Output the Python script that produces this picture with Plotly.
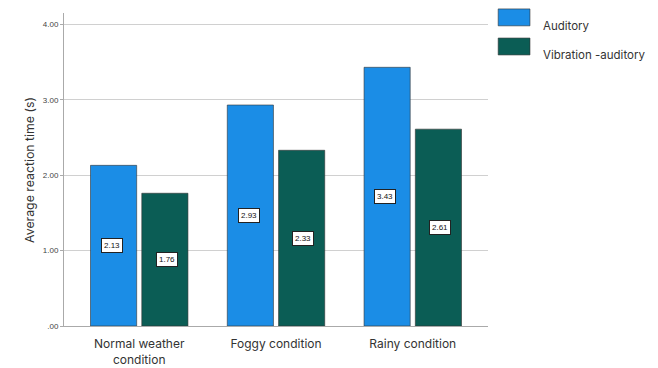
import plotly.graph_objects as go

categories = ["Normal weather<br>condition", "Foggy condition", "Rainy condition"]
series_names = ["Auditory", "Vibration -auditory"]
auditory = [2.13, 2.93, 3.43]
vibration = [1.76, 2.33, 2.61]
tick_vals = [0, 1, 2, 3, 4]
tick_text = [".00", "1.00", "2.00", "3.00", "4.00"]
y_title = "Average reaction time (s)"

colors = ["#1b8de6", "#0b5d55"]
fig = go.Figure()
for name, vals, col in zip(series_names, [auditory, vibration], colors):
    fig.add_trace(go.Bar(
        x=categories, y=vals, name=name, marker_color=col,
        marker_line_color="#333333", marker_line_width=0.6, showlegend=False,
    ))

# value labels at mid-height of each bar
offsets = [-0.2, 0.2]
for k, vals in enumerate([auditory, vibration]):
    for i, v in enumerate(vals):
        fig.add_annotation(
            x=i + offsets[k], y=v / 2, xref="x", yref="y",
            text=f"{v:.2f}", showarrow=False,
            font=dict(size=8, color="#111111", family="Liberation Sans"),
            bgcolor="white", bordercolor="#222222", borderwidth=1, borderpad=2,
        )

# legend drawn manually
leg_y = [0.986, 0.893]
for name, col, yy in zip(series_names, colors, leg_y):
    fig.add_shape(type="rect", xref="paper", yref="paper",
                  x0=1.024, x1=1.099, y0=yy - 0.027, y1=yy + 0.027,
                  fillcolor=col, line=dict(color="#333333", width=0.6))
    fig.add_annotation(x=1.124, y=yy, xref="paper", yref="paper",
                       text=name, showarrow=False, xanchor="left",
                       font=dict(size=11.5, color="#333333", family="Inter"))

# y-axis title
fig.add_annotation(x=-0.104, y=0.5, xref="paper", yref="paper",
                   text=y_title, textangle=-90, showarrow=False,
                   font=dict(size=12.3, color="#333333", family="Inter"))

fig.update_layout(
    width=650, height=360,
    margin=dict(l=56, r=170, t=5, b=42),
    plot_bgcolor="white", paper_bgcolor="white",
    barmode="group", bargap=0.25, bargroupgap=0.1,
    font=dict(family="Inter", color="#333333"),
)
fig.update_xaxes(
    type="category", range=[-0.55, 2.55], automargin=False,
    showline=True, linecolor="#aaaaaa", linewidth=1,
    ticks="", ticklabelstandoff=7, tickfont=dict(size=12, color="#333333"),
)
fig.update_yaxes(
    range=[0, 4.15], tickvals=tick_vals, ticktext=tick_text, automargin=False,
    showgrid=True, gridcolor="#d0d0d0", gridwidth=1,
    showline=True, linecolor="#aaaaaa", linewidth=1,
    ticks="outside", ticklen=3, tickcolor="#aaaaaa",
    tickfont=dict(size=8, color="#444444", family="Liberation Sans"),
    zeroline=False,
)

fig.write_html("out.html")
